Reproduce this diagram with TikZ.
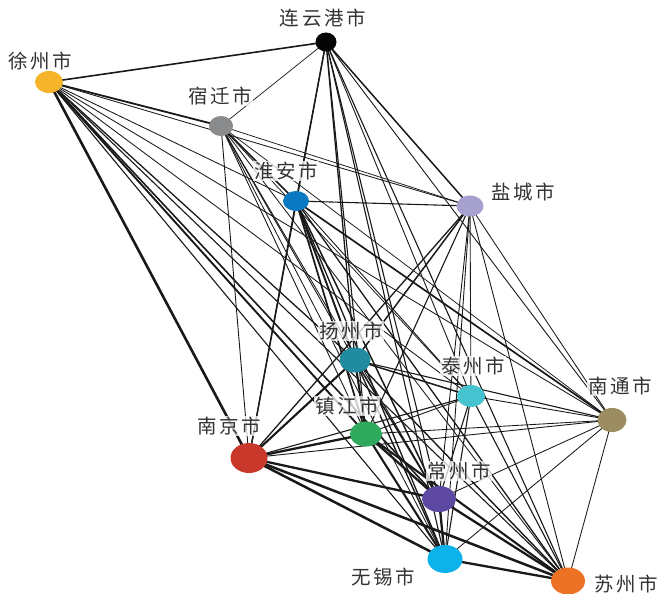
\documentclass[tikz,border=0pt]{standalone}
\usepackage{fontspec}
\usetikzlibrary{shapes.geometric}
\newfontfamily\cjk[LetterSpace=14]{Noto Sans CJK SC}
\begin{document}
\begin{tikzpicture}[x=1pt,y=-1pt,
  city/.style={ellipse, inner sep=0pt, draw=none},
  lab/.style={font=\cjk\fontsize{19.5}{19.5}\selectfont, text=black!80, fill=white, fill opacity=0.75, text opacity=1, inner sep=1pt},
  e/.style={line width=#1, black!90, line cap=round}]
\useasboundingbox (0,0) rectangle (657,594);
\definecolor{cLYG}{HTML}{050505}
\definecolor{cXZ}{HTML}{F6B42A}
\definecolor{cSQ}{HTML}{8A8B8D}
\definecolor{cHA}{HTML}{0B78C2}
\definecolor{cYC}{HTML}{A7A1D0}
\definecolor{cYZ}{HTML}{218B9F}
\definecolor{cTZ}{HTML}{45C3CF}
\definecolor{cNT}{HTML}{9B8C62}
\definecolor{cZJ}{HTML}{2FAA5C}
\definecolor{cNJ}{HTML}{C9392B}
\definecolor{cCZ}{HTML}{5D49A1}
\definecolor{cWX}{HTML}{0CB2E9}
\definecolor{cSZ}{HTML}{EE7226}
% coordinates
\coordinate (LYG) at (326,42);
\coordinate (XZ) at (49,82);
\coordinate (SQ) at (221,126);
\coordinate (HA) at (296,201);
\coordinate (YC) at (470,206);
\coordinate (YZ) at (355,360);
\coordinate (TZ) at (471,396);
\coordinate (NT) at (612,420);
\coordinate (ZJ) at (366,434);
\coordinate (NJ) at (249,458);
\coordinate (CZ) at (439,499);
\coordinate (WX) at (445,559);
\coordinate (SZ) at (568,581);
% edges
\foreach \a/\b/\w in {
 XZ/LYG/1.6, XZ/SQ/1.8, XZ/HA/0.85, XZ/YC/0.85, XZ/YZ/1.3, XZ/TZ/0.85, XZ/NT/0.85, XZ/ZJ/1.9, XZ/NJ/2.6, XZ/CZ/1.6, XZ/WX/1.1, XZ/SZ/1.1,
 LYG/SQ/0.75, LYG/HA/1.3, LYG/YC/1.5, LYG/YZ/1.3, LYG/TZ/0.9, LYG/NT/0.9, LYG/ZJ/1.1, LYG/NJ/1.3, LYG/CZ/1.1, LYG/WX/1.1, LYG/SZ/1.1,
 SQ/HA/1.7, SQ/YC/0.75, SQ/YZ/0.9, SQ/TZ/0.75, SQ/NT/0.75, SQ/ZJ/0.9, SQ/NJ/0.9, SQ/CZ/0.85, SQ/WX/0.85, SQ/SZ/0.85,
 HA/YC/1.1, HA/YZ/1.9, HA/TZ/0.9, HA/NT/1.7, HA/ZJ/1.7, HA/NJ/1.3, HA/CZ/1.5, HA/WX/1.3, HA/SZ/1.3,
 YC/YZ/1.5, YC/TZ/0.9, YC/NT/0.85, YC/ZJ/1.1, YC/NJ/1.3, YC/CZ/0.9, YC/WX/0.9, YC/SZ/0.9,
 YZ/TZ/1.5, YZ/NT/1.1, YZ/ZJ/2.1, YZ/NJ/2.1, YZ/CZ/1.6, YZ/WX/1.4, YZ/SZ/1.4,
 TZ/NT/0.9, TZ/ZJ/0.9, TZ/NJ/1.1, TZ/CZ/1.1, TZ/WX/1.1, TZ/SZ/1.1,
 NT/ZJ/0.85, NT/NJ/0.9, NT/CZ/0.85, NT/WX/0.85, NT/SZ/0.85,
 ZJ/NJ/2.3, ZJ/CZ/2.3, ZJ/WX/2.1, ZJ/SZ/2.1,
 NJ/CZ/2.3, NJ/WX/2.5, NJ/SZ/2.5,
 CZ/WX/2.3, CZ/SZ/2.3, WX/SZ/2.3}
 \draw[e=\w pt] (\a) -- (\b);
% labels
\node[lab] (lLYG) at (323,18) {连云港市};
\node[lab] (lXZ) at (40,61) {徐州市};
\node[lab] (lSQ) at (220,96) {宿迁市};
\node[lab] (lHA) at (286,171) {淮安市};
\node[lab] (lYC) at (523,192) {盐城市};
\node[lab] (lYZ) at (351,331) {扬州市};
\node[lab] (lTZ) at (473,366) {泰州市};
\node[lab] (lNT) at (620,386) {南通市};
\node[lab] (lZJ) at (347,406) {镇江市};
\node[lab] (lNJ) at (229,426) {南京市};
\node[lab] (lCZ) at (459,471) {常州市};
\node[lab] (lWX) at (383,577) {无锡市};
\node[lab] (lSZ) at (626,584) {苏州市};
% city nodes
\node[city, fill=cLYG, minimum width=21pt, minimum height=19pt] (nLYG) at (LYG) {};
\node[city, fill=cXZ, minimum width=28pt, minimum height=22pt] (nXZ) at (XZ) {};
\node[city, fill=cSQ, minimum width=24pt, minimum height=20pt] (nSQ) at (SQ) {};
\node[city, fill=cHA, minimum width=26pt, minimum height=20pt] (nHA) at (HA) {};
\node[city, fill=cYC, minimum width=27pt, minimum height=21pt] (nYC) at (YC) {};
\node[city, fill=cYZ, minimum width=31pt, minimum height=25pt] (nYZ) at (YZ) {};
\node[city, fill=cTZ, minimum width=28pt, minimum height=22pt] (nTZ) at (TZ) {};
\node[city, fill=cNT, minimum width=29pt, minimum height=24pt] (nNT) at (NT) {};
\node[city, fill=cZJ, minimum width=32pt, minimum height=25pt] (nZJ) at (ZJ) {};
\node[city, fill=cNJ, minimum width=37pt, minimum height=30pt] (nNJ) at (NJ) {};
\node[city, fill=cCZ, minimum width=34pt, minimum height=26pt] (nCZ) at (CZ) {};
\node[city, fill=cWX, minimum width=35pt, minimum height=28pt] (nWX) at (WX) {};
\node[city, fill=cSZ, minimum width=34pt, minimum height=27pt] (nSZ) at (SZ) {};
\end{tikzpicture}
\end{document}
